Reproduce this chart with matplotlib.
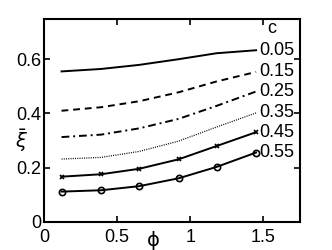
import numpy as np
import matplotlib
matplotlib.use("Agg")
import matplotlib.pyplot as plt

plt.rcParams['font.family'] = ['Liberation Sans', 'DejaVu Sans']
plt.rcParams['mathtext.fontset'] = 'dejavusans'

# phi sample points
phi = [0.12, 0.39, 0.65, 0.92, 1.18, 1.45]

# xi-bar for each c
c_labels = ["0.05", "0.15", "0.25", "0.35", "0.45", "0.55"]
xi_005 = [0.555, 0.564, 0.579, 0.600, 0.622, 0.633]
xi_015 = [0.410, 0.423, 0.445, 0.478, 0.518, 0.553]
xi_025 = [0.313, 0.322, 0.345, 0.380, 0.428, 0.481]
xi_035 = [0.232, 0.238, 0.260, 0.298, 0.350, 0.402]
xi_045 = [0.167, 0.176, 0.196, 0.231, 0.280, 0.331]
xi_055 = [0.112, 0.117, 0.132, 0.161, 0.203, 0.256]

xticks = [0, 0.5, 1, 1.5]
xtick_labels = ["0", "0.5", "1", "1.5"]
yticks = [0, 0.2, 0.4, 0.6]
ytick_labels = ["0", "0.2", "0.4", "0.6"]

fig = plt.figure(figsize=(3.32, 2.5), dpi=100)
ax = fig.add_axes([0.1325, 0.112, 0.771, 0.814])

lw = 1.4
ax.plot(phi, xi_005, color='black', lw=lw, ls='-')
ax.plot(phi, xi_015, color='black', lw=lw, ls=(0, (3.5, 2.5)))
ax.plot(phi, xi_025, color='black', lw=lw, ls=(0, (4, 2, 1, 2)))
ax.plot(phi, xi_035, color='black', lw=0.9, ls=(0, (0.8, 1.0)))
ax.plot(phi, xi_045, color='black', lw=lw, ls='-', marker='x', ms=3.5, mew=1.2)
ax.plot(phi, xi_055, color='black', lw=lw, ls='-', marker='o', ms=4.5, mew=1.2,
        mfc='none')

# curve labels at the right end of each curve
series = [xi_005, xi_015, xi_025, xi_035, xi_045, xi_055]
for lab, ys in zip(c_labels, series):
    ax.text(phi[-1] + 0.02, ys[-1], lab, fontsize=13, ha='left', va='center')
ax.text(1.555, 0.712, "c", fontsize=13, ha='center', va='center')

ax.set_xlim(0, 1.75)
ax.set_ylim(0, 0.75)
ax.set_xticks(xticks)
ax.set_xticklabels(xtick_labels)
ax.set_yticks(yticks)
ax.set_yticklabels(ytick_labels)
ax.tick_params(direction='in', length=4, width=1.2, top=True, right=True,
               labelsize=13, pad=2)
ax.tick_params(axis='x', pad=5)
for s in ax.spines.values():
    s.set_linewidth(1.5)

ax.set_xlabel("\u03d5", fontsize=14, family='DejaVu Sans')
ax.xaxis.set_label_coords(0.426, -0.045)
ax.text(-0.086, 0.40, r"$\bar{\xi}$", fontsize=14, transform=ax.transAxes,
        ha='center', va='center')

fig.savefig("out.png", dpi=100)
